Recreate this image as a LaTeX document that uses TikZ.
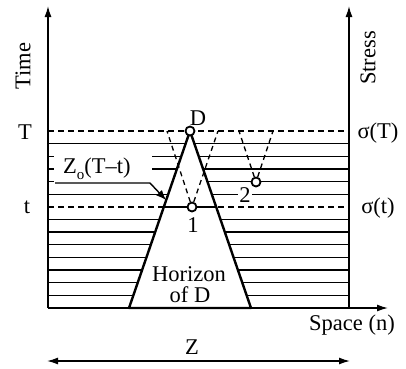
\documentclass[tikz,border=0pt]{standalone}
\usepackage{fontspec}
\setmainfont{Liberation Serif}
\usetikzlibrary{arrows.meta}
\tikzset{
  hatch/.style={line width=1.3bp},
  dline/.style={line width=1.3bp, dash pattern=on 6bp off 4bp},
  vdash/.style={line width=1.3bp, dash pattern=on 5bp off 4bp},
  axis/.style={line width=1.4bp, -{Latex[length=11bp,width=7bp]}},
  pt/.style={circle, draw, line width=1.8bp, fill=white, minimum size=9bp, inner sep=0pt},
  lbl/.style={font=\fontsize{22.5bp}{19bp}\selectfont, inner sep=0pt},
}
\begin{document}
\begin{tikzpicture}[x=1bp,y=-1bp]
\useasboundingbox (0,0) rectangle (406,369);
% hatch lines
\foreach \k in {1,5,7,8,9,10,11,12,13}{
  \pgfmathsetmacro\yy{131+12.643*\k}
  \draw[hatch] (48,\yy) -- (349,\yy);
}
\foreach \k in {2,3}{
  \pgfmathsetmacro\yy{131+12.643*\k}
  \draw[hatch] (48,\yy) -- (54,\yy);
  \draw[hatch] (152,\yy) -- (349,\yy);
}
\draw[hatch] (48,181.6) -- (54,181.6);
\draw[hatch] (180,181.6) -- (349,181.6);
% dashed T and t lines
\draw[dline] (48,131) -- (349,131);
\draw[dline] (48,207) -- (349,207);
% horizon triangle
\coordinate (apex) at (190,131);
\coordinate (bl) at (129,308);
\coordinate (br) at (251,308);
\filldraw[fill=white, line width=2.4bp, line join=round] (apex) -- (bl) -- (br) -- cycle;
% thick segment at t
\coordinate (tl) at (163.8,207);
\coordinate (tr) at (216.2,207);
\draw[line width=2.4bp] (tl) -- (tr);
% points
\node[pt] (D) at (190,131) {};
\node[pt] (p1) at (192,207) {};
\node[pt] (p2) at (256,182) {};
% dashed cones
\coordinate (c1l) at (167,131);
\coordinate (c1r) at (218,131);
\coordinate (c2l) at (239,131);
\coordinate (c2r) at (273,131);
\draw[vdash] (p1) -- (c1l);
\draw[vdash] (p1) -- (c1r);
\draw[vdash] (p2) -- (c2l);
\draw[vdash] (p2) -- (c2r);
% leader
\coordinate (ls) at (55,183);
\coordinate (lk) at (150,183);
\coordinate (le) at (166,200);
\draw[line width=1.4bp, -{Latex[length=10bp,width=8bp]}] (ls) -- (lk) -- (le);
% axes
\coordinate (o) at (48,308);
\coordinate (ly) at (48,6);
\coordinate (rb) at (349,308);
\coordinate (ry) at (349,6);
\coordinate (xe) at (388,308);
\draw[axis] (o) -- (ly);
\draw[axis] (rb) -- (ry);
\draw[axis] (o) -- (xe);
% Z double arrow
\coordinate (zl) at (47,361);
\coordinate (zr) at (350,361);
\draw[line width=1.4bp, {Latex[length=11bp,width=7bp]}-{Latex[length=11bp,width=7bp]}] (zl) -- (zr);
% labels
\node[lbl, rotate=90] (time) at (23,66) {Time};
\node[lbl, rotate=90] (stress) at (368,58) {Stress};
\node[lbl] (lT) at (25,132) {T};
\node[lbl] (lt) at (27,207) {t};
\node[lbl] (lD) at (198,118) {D};
\node[lbl] (sT) at (378,133) {σ(T)};
\node[lbl] (st) at (378,208) {σ(t)};
\node[lbl, anchor=base west] (zo) at (63,173) {Z\raisebox{-0.28em}{\fontsize{15bp}{15bp}\selectfont o}(T–t)};
\node[lbl] (l1) at (193,225) {1};
\node[lbl, fill=white, inner sep=1bp] (l2) at (245,195) {2};
\node[lbl, anchor=base] (hz) at (189,281) {Horizon};
\node[lbl, anchor=base] (ofd) at (190,302.5) {of D};
\node[lbl] (sp) at (352,325) {Space (n)};
\node[lbl] (lz) at (192,347) {Z};
\end{tikzpicture}
\end{document}
